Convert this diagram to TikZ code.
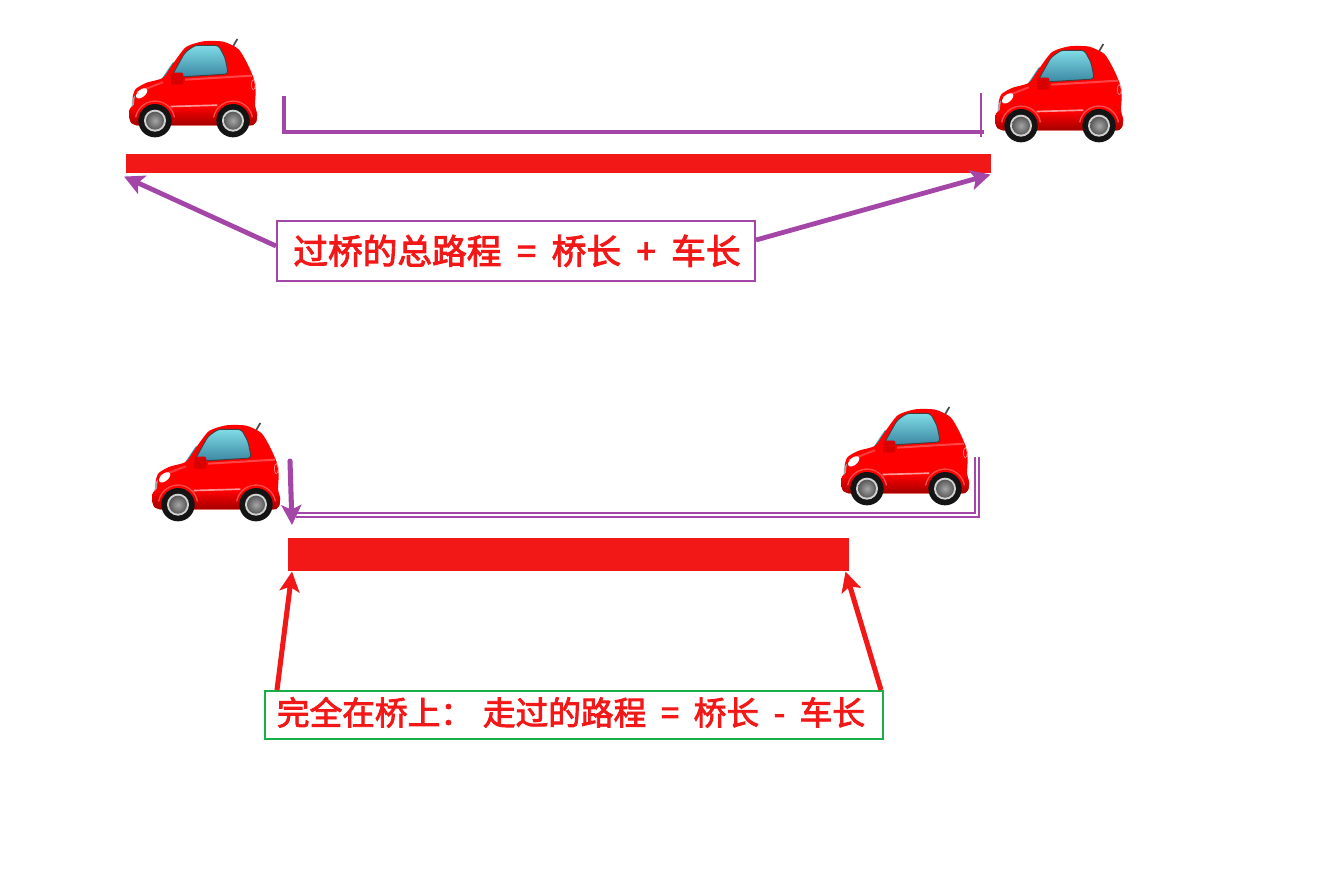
\documentclass[tikz,border=0pt]{standalone}
\usepackage{fontspec}
\setmainfont{Noto Sans CJK SC}
\newfontfamily\labelfont[FakeBold=2.6]{Noto Sans CJK SC}
\usetikzlibrary{arrows.meta, positioning}
\definecolor{barred}{HTML}{F21818}
\definecolor{linepurple}{HTML}{A445A8}
\definecolor{boxgreen}{HTML}{1AAE48}
\definecolor{glasstop}{HTML}{80DCE6}
\definecolor{glassbot}{HTML}{3A86A2}
\newcommand{\opgap}[1]{\hspace{#1}}
\tikzset{
    carbody/.style={insert path={plot[smooth,tension=.4] coordinates {
        (24,262) (7,255) (1,238) (3,212) (15,198) (11,178) (20,153) (53,134) (101,120)
        (128,83) (170,28) (223,10) (283,11) (328,33) (353,73) (373,118)
        (380,158) (378,203) (384,228) (382,250) (372,261) (360,262)} -- cycle}},
    car/.pic={
        \begin{scope}[x=.25pt,y=-.25pt]
            % antenna and side glass
            \draw[line width=1.3pt,black!70] (311,27) -- (325,3);
            \fill[glassbot!70!cyan] (333,48) -- (374,120) -- (360,122) -- (325,60) -- cycle;
            \fill[glassbot!70!cyan] (97,124) -- (132,72) -- (142,80) -- (110,126) -- cycle;
            % body
            \fill[red,carbody];
            \begin{scope}
                \clip[carbody];
                \shade[top color=red,bottom color=red!62!black] (-5,206) rectangle (390,265);
            \end{scope}
            \fill[white!60!red] (125,203) -- (265,199) -- (265,204) -- (125,208) -- cycle;
            \fill[white!45!red,opacity=.6] (168,122) -- (368,110) -- (370,116) -- (168,128) -- cycle;
            \fill[white!45!red,opacity=.5] (22,160) -- (100,130) -- (104,135) -- (28,165) -- cycle;
            % window
            \shade[top color=glasstop,bottom color=glassbot,draw=black!75,line width=.7pt,rounded corners=2.5pt]
                (126,118) -- (168,43) -- (198,22) -- (268,22) -- (288,58) -- (298,108) -- (168,116) -- cycle;
            % mirror, lamps
            \fill[red!85!black,rounded corners=1.5pt] (126,104) rectangle (163,140);
            \fill[white,rotate around={40:(38,166)}] (38,166) ellipse (20 and 11);
            \fill[gray!70] (8,208) -- (9,185) -- (18,172) -- (14,200) -- cycle;
            \draw[white!55!red,line width=.5pt] (373,140) ellipse (6 and 15);
            % wheels
            \foreach \wx in {78,312} {
                \draw[white!30!red,line width=1pt] (\wx-58,238) arc[start angle=190,end angle=350,radius=59];
                \fill[black!92] (\wx,248) circle (50);
                \fill[gray!35] (\wx,248) circle (33);
                \shade[inner color=gray!70,outer color=black!65] (\wx,248) circle (27);
            }
        \end{scope}
    }
}
\begin{document}
\begin{tikzpicture}[x=.75pt,y=-.75pt,
    barbox/.style={fill=barred,inner sep=0pt,anchor=north west},
    bracket/.style={linepurple,line width=3pt},
    thinline/.style={linepurple,line width=1.6pt},
    callout/.style={line width=1.5pt,fill=white,inner sep=0pt,text=barred},
    purplearrow/.style={linepurple,line width=3.6pt,-{Stealth[length=15pt,width=15pt,inset=3.5pt]}},
    redarrow/.style={barred,line width=3.8pt,-{Stealth[length=15pt,width=15pt,inset=3.5pt]}}]
    \useasboundingbox (0,0) rectangle (1334,878);

    % upper picture
    \pic at (129,38) {car};
    \pic at (995,43) {car};
    \node[barbox,minimum width=648.75pt,minimum height=14.25pt] (bar1) at (126,154) {};
    \coordinate (b1a) at (284,96);
    \coordinate (b1b) at (284,132);
    \coordinate (b1c) at (984,132);
    \coordinate (b1d) at (981,93);
    \coordinate (b1e) at (981,137);
    \draw[bracket] (b1a) -- (b1b) -- (b1c);
    \draw[thinline] (b1d) -- (b1e);
    \node[callout,draw=linepurple,minimum width=358.5pt,minimum height=45pt,font=\labelfont\fontsize{26}{30}\selectfont] (box1) at (516,251)
        {\raisebox{2.4pt}{\hspace{1.5pt}过桥的总路程\opgap{5.8pt} = \opgap{5.8pt}桥长\opgap{5.8pt} + \opgap{5.8pt}车长}};
    \draw[purplearrow] ([yshift=3.75pt]box1.west) -- ([shift={(-2,3)}]bar1.south west);
    \draw[purplearrow] ([yshift=8.25pt]box1.east) -- ([shift={(-1,1)}]bar1.south east);

    % lower picture
    \pic at (152,422) {car};
    \pic at (841,406) {car};
    \node[barbox,minimum width=420.75pt,minimum height=24.75pt] (bar2) at (288,538) {};
    \coordinate (b2a) at (296,513);
    \coordinate (b2b) at (975,513);
    \coordinate (b2c) at (975,457);
    \coordinate (b2d) at (296,517);
    \coordinate (b2e) at (979,517);
    \coordinate (b2f) at (979,457);
    \coordinate (a2s) at (290,461);
    \coordinate (a2e) at (292,525);
    \draw[thinline] (b2a) -- (b2b) -- (b2c);
    \draw[thinline] (b2d) -- (b2e) -- (b2f);
    \draw[purplearrow,line cap=round,line width=3.8pt] (a2s) -- (a2e);
    \node[callout,draw=boxgreen,minimum width=463.5pt,minimum height=36pt,font=\labelfont\fontsize{24.5}{28}\selectfont] (box2) at (574,715)
        {\raisebox{6pt}{\hspace{-1.5pt}完全在桥上：\opgap{2pt} 走过的路程\opgap{5.5pt} = \opgap{5.5pt}桥长\opgap{5.5pt} - \opgap{5.5pt}车长\hspace{3pt}}};
    \draw[redarrow] ([xshift=9.75pt]box2.north west) -- ([xshift=3pt]bar2.south west);
    \draw[redarrow] ([xshift=-2.25pt]box2.north east) -- ([xshift=-3pt]bar2.south east);
\end{tikzpicture}
\end{document}
